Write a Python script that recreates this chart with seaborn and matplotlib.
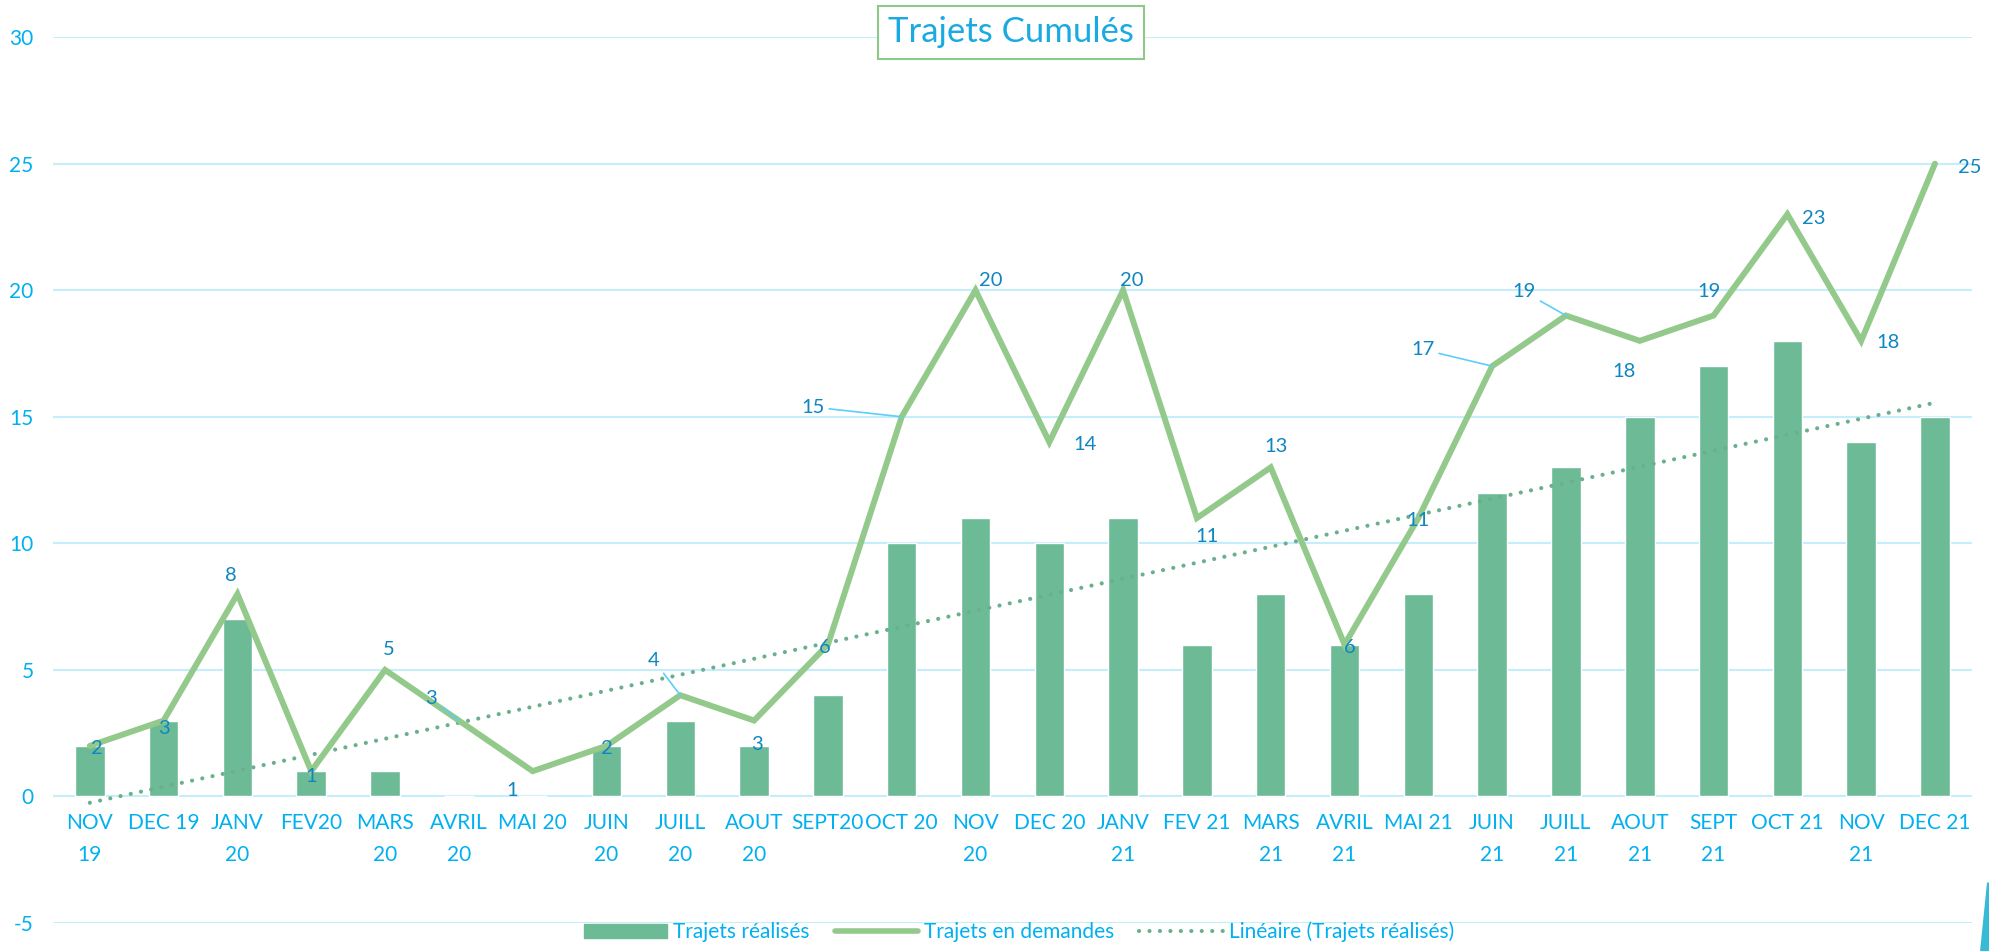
import numpy as np
import pandas as pd
import seaborn as sns
import matplotlib.pyplot as plt
from matplotlib.patches import Patch, Polygon
from matplotlib.lines import Line2D

# données
mois = ["NOV\n19", "DEC 19", "JANV\n20", "FEV20", "MARS\n20", "AVRIL\n20", "MAI 20",
        "JUIN\n20", "JUILL\n20", "AOUT\n20", "SEPT20", "OCT 20", "NOV\n20", "DEC 20",
        "JANV\n21", "FEV 21", "MARS\n21", "AVRIL\n21", "MAI 21", "JUIN\n21", "JUILL\n21",
        "AOUT\n21", "SEPT\n21", "OCT 21", "NOV\n21", "DEC 21"]
trajets_realises = [2, 3, 7, 1, 1, 0, 0, 2, 3, 2, 4, 10, 11, 10, 11, 6, 8, 6, 8, 12, 13, 15, 17, 18, 14, 15]
trajets_demandes = [2, 3, 8, 1, 5, 3, 1, 2, 4, 3, 6, 15, 20, 14, 20, 11, 13, 6, 11, 17, 19, 18, 19, 23, 18, 25]

# décalage des étiquettes (points) et lignes de rappel
offsets = [(5, -2), (0, -6), (-5, 13), (0, -4), (3, 15), (-20, 16), (-15, -14), (0, -2),
           (-19, 25), (2, -17), (-2, -2), (-64, 7), (11, 7), (26, -2), (6, 7), (7, -13),
           (4, 15), (4, -2), (0, -2), (-50, 12), (-30, 17), (-11, -22), (-3, 17), (19, -3),
           (19, -1), (25, -3)]
leaders = {5, 8, 11, 19, 20}

vert_barre = "#6DBB96"
vert_ligne = "#94C98C"
vert_tendance = "#6BB08C"
bleu = "#00B0F0"
bleu_label = "#0E86C0"
pointille = (0, (0.01, 2.5))

df = pd.DataFrame({"mois": mois, "realises": trajets_realises,
                   "demandes": trajets_demandes, "pos": np.arange(len(mois))})

sns.set_style("white")
plt.rcParams["font.family"] = ["Lato", "DejaVu Sans"]
plt.rcParams["axes.unicode_minus"] = False

fig = plt.figure(figsize=(19.9, 9.51), dpi=100)
ax = fig.add_axes([0.0266, 0.0294, 0.9643, 0.9316])

sns.barplot(data=df, x="mois", y="realises", order=mois, color=vert_barre,
            width=0.4, saturation=1, ax=ax, zorder=2)
sns.lineplot(data=df, x="pos", y="demandes", color=vert_ligne, lw=4.3, ax=ax,
             zorder=4, solid_joinstyle="miter")
sns.regplot(data=df, x="pos", y="realises", scatter=False, ci=None, ax=ax,
            line_kws=dict(color=vert_tendance, lw=3, ls=pointille,
                          dash_capstyle="round", zorder=3))

for i, v in enumerate(trajets_demandes):
    dx, dy = offsets[i]
    kw = {}
    if i in leaders:
        kw["arrowprops"] = dict(arrowstyle="-", color="#5CCFF5", lw=1.2,
                                shrinkA=1, shrinkB=0)
    ax.annotate(str(v), xy=(i, v), xytext=(dx, dy), textcoords="offset points",
                ha="center", va="center", fontsize=14.5, color=bleu_label, zorder=6, **kw)

# axe des x placé sur le zéro (avant de styliser les étiquettes)
ax.spines["bottom"].set_position(("data", 0))
for s in ax.spines.values():
    s.set_visible(False)

ax.set_xlim(-0.5, len(mois) - 0.5)
ax.set_ylim(-5, 30)
ax.set_yticks(range(-5, 31, 5))
ax.set_xticks(range(len(mois)))
ax.set_xticklabels(mois, fontsize=15, color=bleu, linespacing=1.75, va="top")
ax.tick_params(axis="y", labelsize=15, labelcolor=bleu, length=0, pad=14)
ax.tick_params(axis="x", length=0, pad=12)
ax.yaxis.grid(True, color="#C4EEFB", lw=1.5)
ax.set_axisbelow(True)
ax.set_xlabel("")
ax.set_ylabel("")

fig.text(0.508, 0.966, "Trajets Cumulés", ha="center", va="center", fontsize=25,
         color="#1AAAE2",
         bbox=dict(boxstyle="square,pad=0.3", fc="white", ec="#8CC98A", lw=1.5))

handles = [Patch(color=vert_barre),
           Line2D([], [], color=vert_ligne, lw=4, solid_capstyle="round"),
           Line2D([], [], color=vert_tendance, lw=3, ls=pointille, dash_capstyle="round")]
labels = ["Trajets réalisés", "Trajets en demandes", "Linéaire (Trajets réalisés)"]
fig.legend(handles, labels, loc="center", bbox_to_anchor=(0.512, 0.02), ncol=3,
           frameon=False, fontsize=15, labelcolor=bleu, handlelength=4.0,
           handleheight=0.6, columnspacing=1.2, handletextpad=0.3)

# petit élément décoratif bleu en bas à droite
fig.patches.append(Polygon([[0.995, 0.0], [0.9985, 0.072], [1.0, 0.072], [1.0, 0.0]],
                           closed=True, transform=fig.transFigure, fc="#38B9D6", ec="none"))

fig.savefig("out.png", dpi=100)
